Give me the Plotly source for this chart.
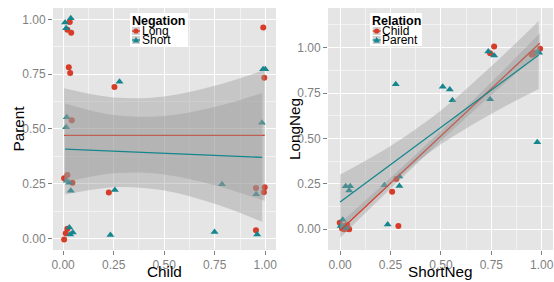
import plotly.graph_objects as go

# ---------------- data ----------------
# Left panel: x = Child, y = Parent, grouped by Negation
long_child = [0.033, 0.021, 0.040, 0.990, 0.028, 0.035, 0.254, 0.995, 0.043, 0.005,
              0.021, 0.046, 0.226, 0.954, 0.997, 0.993, 0.021, 0.013, 0.005, 0.954]
long_parent = [0.988, 0.953, 0.939, 0.963, 0.781, 0.755, 0.691, 0.733, 0.539, 0.275,
               0.289, 0.254, 0.210, 0.230, 0.233, 0.211, 0.044, 0.023, -0.005, 0.037]
short_child = [0.010, 0.038, 0.015, 0.279, 0.989, 1.000, 0.018, 0.015, 0.983, 0.018,
               0.030, 0.038, 0.256, 0.786, 0.955, 0.031, 0.048, 0.035, 0.234, 0.749, 0.960]
short_parent = [0.986, 1.005, 0.959, 0.715, 0.772, 0.772, 0.553, 0.507, 0.528, 0.263,
                0.254, 0.217, 0.221, 0.247, 0.202, 0.050, 0.027, 0.018, 0.015, 0.029, 0.018]

# Right panel: x = ShortNeg, y = LongNeg, grouped by Relation
child_shortneg = [0.744, 0.764, 0.950, 0.958, 0.967, 0.992, 0.279, 0.258, 0.289, -0.002,
                  0.010, 0.020, 0.030, 0.040, 0.025, 0.015, 0.035, 0.045, 0.008, 0.028]
child_longneg = [0.969, 1.006, 0.960, 0.965, 0.972, 0.994, 0.277, 0.207, 0.018, 0.036,
                 0.005, 0.000, 0.010, 0.003, 0.020, 0.012, 0.025, 0.000, 0.015, 0.004]
parent_shortneg = [0.276, 0.509, 0.544, 0.557, 0.735, 0.764, 0.744, 0.978, 0.987, 0.978,
                   0.028, 0.050, 0.045, 0.220, 0.294, 0.294, 0.236, 0.013, 0.003, 0.028, 0.020]
parent_longneg = [0.798, 0.785, 0.769, 0.710, 0.978, 0.956, 0.716, 0.975, 0.972, 0.479,
                  0.237, 0.237, 0.213, 0.242, 0.290, 0.238, 0.027, 0.053, 0.018, 0.009, 0.015]

# Linear-model smooths (fit and 95% band)
left_long_x = [0.005, 0.25, 0.5, 0.75, 0.997]
left_long_fit = [0.470, 0.470, 0.470, 0.470, 0.470]
left_long_lo = [0.255, 0.297, 0.292, 0.243, 0.171]
left_long_hi = [0.685, 0.643, 0.648, 0.697, 0.769]

left_short_x = [0.010, 0.25, 0.5, 0.75, 0.985]
left_short_fit = [0.408, 0.398, 0.389, 0.379, 0.370]
left_short_lo = [0.200, 0.234, 0.219, 0.158, 0.076]
left_short_hi = [0.616, 0.563, 0.559, 0.600, 0.664]

right_child_x = [0.000, 0.25, 0.5, 0.75, 0.990]
right_child_fit = [-0.007, 0.253, 0.514, 0.774, 1.024]
right_child_lo = [-0.047, 0.223, 0.486, 0.739, 0.969]
right_child_hi = [0.033, 0.283, 0.542, 0.809, 1.079]

right_parent_x = [0.000, 0.25, 0.5, 0.75, 0.985]
right_parent_fit = [0.150, 0.355, 0.561, 0.766, 0.959]
right_parent_lo = [-0.001, 0.252, 0.468, 0.635, 0.772]
right_parent_hi = [0.301, 0.458, 0.654, 0.897, 1.146]

tick_vals = [0, 0.25, 0.5, 0.75, 1.0]
tick_text = ["0.00", "0.25", "0.50", "0.75", "1.00"]

# ---------------- style ----------------
RED = "#D63C28"
TEAL = "#15868E"
BAND = "rgba(153,153,153,0.4)"
PANEL = "#E5E5E5"
FONT = "Liberation Sans, Arial, sans-serif"

W, H = 554, 282
ML, MR, MT, MB = 53, 1, 8, 32
PW, PH = W - ML - MR, H - MT - MB


def px(x):
    return (x - ML) / PW


def py(y):
    return (H - MB - y) / PH


fig = go.Figure()


def points(x, y, color, symbol, size, xa, ya):
    fig.add_trace(go.Scatter(x=x, y=y, mode="markers", xaxis=xa, yaxis=ya,
                             marker=dict(color=color, symbol=symbol, size=size,
                                         line=dict(width=0)),
                             showlegend=False, hoverinfo="x+y"))


def smooth(x, fit, lo, hi, color, xa, ya):
    fig.add_trace(go.Scatter(x=x, y=lo, mode="lines", xaxis=xa, yaxis=ya,
                             line=dict(width=0, shape="spline", smoothing=1.0),
                             showlegend=False, hoverinfo="skip"))
    fig.add_trace(go.Scatter(x=x, y=hi, mode="lines", xaxis=xa, yaxis=ya,
                             fill="tonexty", fillcolor=BAND,
                             line=dict(width=0, shape="spline", smoothing=1.0),
                             showlegend=False, hoverinfo="skip"))
    fig.add_trace(go.Scatter(x=x, y=fit, mode="lines", xaxis=xa, yaxis=ya,
                             line=dict(color=color, width=1.3),
                             showlegend=False, hoverinfo="skip"))


# left panel
points(long_child, long_parent, RED, "circle", 6, "x", "y")
points(short_child, short_parent, TEAL, "triangle-up", 7, "x", "y")
smooth(left_long_x, left_long_fit, left_long_lo, left_long_hi, RED, "x", "y")
smooth(left_short_x, left_short_fit, left_short_lo, left_short_hi, TEAL, "x", "y")

# right panel
points(child_shortneg, child_longneg, RED, "circle", 6, "x2", "y2")
points(parent_shortneg, parent_longneg, TEAL, "triangle-up", 7, "x2", "y2")
smooth(right_child_x, right_child_fit, right_child_lo, right_child_hi, RED, "x2", "y2")
smooth(right_parent_x, right_parent_fit, right_parent_lo, right_parent_hi, TEAL, "x2", "y2")

axis_common = dict(
    tickvals=tick_vals, ticktext=tick_text, showgrid=True, gridcolor="white",
    gridwidth=1, zeroline=False, showline=False, ticks="outside", ticklen=4,
    tickcolor="#7F7F7F", tickwidth=1, automargin=False,
    tickfont=dict(family=FONT, size=12, color="#7F7F7F"),
    minor=dict(dtick=0.125, tick0=0.125, showgrid=True, gridcolor="#F2F2F2",
               gridwidth=0.6, ticks=""),
)

fig.update_layout(
    width=W, height=H,
    margin=dict(l=ML, r=MR, t=MT, b=MB, autoexpand=False),
    paper_bgcolor="white", plot_bgcolor=PANEL,
    font=dict(family=FONT),
    xaxis=dict(axis_common, domain=[0, px(276)], range=[-0.05, 1.053], anchor="y"),
    yaxis=dict(axis_common, domain=[0, 1], range=[-0.053, 1.052], anchor="x"),
    xaxis2=dict(axis_common, domain=[px(328), 1], range=[-0.06, 1.056], anchor="y2"),
    yaxis2=dict(axis_common, domain=[0, 1], range=[-0.114, 1.218], anchor="x2"),
    showlegend=False,
)

shapes = []
annotations = []

# axis titles
TITLE_FONT = dict(family=FONT, size=15.3, color="black")
for text, x, y, ang in [("Child", 164.5, 271, 0), ("ShortNeg", 440.5, 271, 0),
                        ("Parent", 17.5, 129, -90), ("LongNeg", 294, 129, -90)]:
    annotations.append(dict(xref="paper", yref="paper", x=px(x), y=py(y), text=text,
                            textangle=ang, showarrow=False, xanchor="center",
                            yanchor="middle", borderpad=0, font=TITLE_FONT))


def legend(x0, x1, y0, y1, title, labels, colors, kinds, key_x, key_ys, text_x):
    shapes.append(dict(type="rect", xref="paper", yref="paper",
                       x0=px(x0), x1=px(x1), y0=py(y1), y1=py(y0),
                       fillcolor="white", line=dict(width=0), layer="above"))
    annotations.append(dict(xref="paper", yref="paper", x=px(x0 + 1), y=py(y0 + 7.5),
                            text="<b>" + title + "</b>", showarrow=False,
                            xanchor="left", yanchor="middle", borderpad=0,
                            font=dict(family=FONT, size=12.5, color="black")))
    for lab, col, kind, ky in zip(labels, colors, kinds, key_ys):
        shapes.append(dict(type="rect", xref="paper", yref="paper",
                           x0=px(key_x - 4), x1=px(key_x + 4),
                           y0=py(ky + 4), y1=py(ky - 4),
                           fillcolor="#D2D2D2", line=dict(width=0), layer="above"))
        shapes.append(dict(type="line", xref="paper", yref="paper",
                           x0=px(key_x - 4), x1=px(key_x + 4), y0=py(ky), y1=py(ky),
                           line=dict(color=col, width=1.3), layer="above"))
        if kind == "circle":
            shapes.append(dict(type="circle", xref="paper", yref="paper",
                               x0=px(key_x - 2.6), x1=px(key_x + 2.6),
                               y0=py(ky + 2.6), y1=py(ky - 2.6),
                               fillcolor=col, line=dict(width=0), layer="above"))
        else:
            path = "M {:.5f},{:.5f} L {:.5f},{:.5f} L {:.5f},{:.5f} Z".format(
                px(key_x - 3.2), py(ky + 2.6), px(key_x + 3.2), py(ky + 2.6),
                px(key_x), py(ky - 3.2))
            shapes.append(dict(type="path", xref="paper", yref="paper", path=path,
                               fillcolor=col, line=dict(width=0), layer="above"))
        annotations.append(dict(xref="paper", yref="paper", x=px(text_x), y=py(ky),
                                text=lab, showarrow=False, xanchor="left",
                                yanchor="middle", borderpad=0,
                                font=dict(family=FONT, size=12, color="black")))


legend(130, 188, 13, 47, "Negation", ["Long", "Short"], [RED, TEAL],
       ["circle", "triangle"], 136, [31, 40], 141)
legend(370, 422, 13, 46, "Relation", ["Child", "Parent"], [RED, TEAL],
       ["circle", "triangle"], 376.7, [31, 40], 381)

fig.update_layout(shapes=shapes, annotations=annotations)

fig.write_html("out.html",
               config={"displayModeBar": False},
               post_script="document.body.style.margin='0px';"
                           "document.body.style.overflow='hidden';")
